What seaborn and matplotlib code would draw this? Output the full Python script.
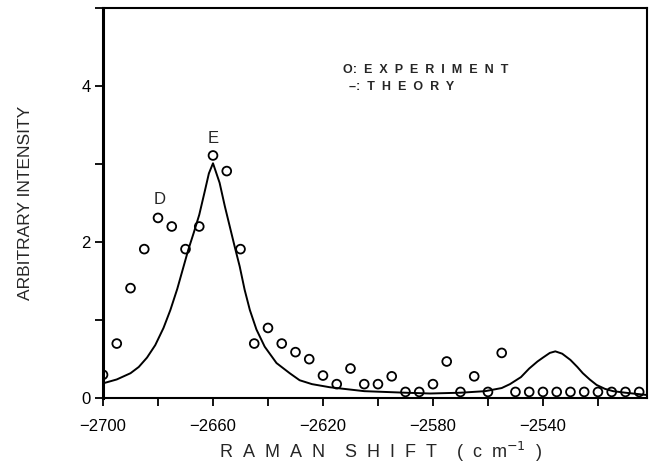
import matplotlib
matplotlib.use("Agg")
import matplotlib.pyplot as plt
from matplotlib.ticker import MultipleLocator, FuncFormatter
import seaborn as sns
import pandas as pd

exp_shift = [-2700, -2695, -2690, -2685, -2680, -2675, -2670, -2665, -2660, -2655,
             -2650, -2645, -2640, -2635, -2630, -2625, -2620, -2615, -2610, -2605,
             -2600, -2595, -2590, -2585, -2580, -2575, -2570, -2565, -2560, -2555,
             -2550, -2545, -2540, -2535, -2530, -2525, -2520, -2515, -2510, -2505]
exp_intensity = [0.30, 0.70, 1.41, 1.91, 2.31, 2.20, 1.91, 2.20, 3.11, 2.91,
                 1.91, 0.70, 0.90, 0.70, 0.59, 0.50, 0.29, 0.18, 0.38, 0.18,
                 0.18, 0.28, 0.08, 0.08, 0.18, 0.47, 0.08, 0.28, 0.08, 0.58,
                 0.08, 0.08, 0.08, 0.08, 0.08, 0.08, 0.08, 0.08, 0.08, 0.08]

# theory curve
theory_shift = [-2700, -2695, -2690, -2687, -2684, -2681, -2678, -2675.5, -2673, -2671,
                -2669, -2667, -2665, -2663, -2661.5, -2660,
                -2657.6, -2655.7, -2653.9, -2652.1, -2650.3, -2648.5, -2646.6, -2644.2,
                -2641.2, -2636.9, -2632.1, -2628.5, -2624, -2617.5, -2605, -2590,
                -2581, -2570, -2561, -2555, -2552, -2548, -2545, -2542, -2540,
                -2537.5, -2535.5, -2533, -2530, -2527.5, -2525.5, -2523, -2520.5,
                -2517.5, -2514.5, -2510, -2502]
theory_intensity = [0.19, 0.24, 0.32, 0.40, 0.52, 0.68, 0.90, 1.13, 1.40, 1.65,
                    1.90, 2.12, 2.35, 2.65, 2.88, 3.01,
                    2.76, 2.46, 2.20, 1.94, 1.69, 1.39, 1.13, 0.88,
                    0.66, 0.45, 0.32, 0.23, 0.18, 0.14, 0.09, 0.07,
                    0.06, 0.07, 0.09, 0.13, 0.18, 0.27, 0.38, 0.47, 0.52,
                    0.58, 0.60, 0.57, 0.49, 0.40, 0.32, 0.24, 0.17,
                    0.12, 0.09, 0.07, 0.04]

peak_labels = ["D", "E"]
peak_x = [-2679.3, -2660]
peak_y = [2.54, 3.33]

sns.set_theme(style="ticks")
plt.rcParams['font.family'] = ['Liberation Sans', 'DejaVu Sans']

exp_df = pd.DataFrame({"shift": exp_shift, "intensity": exp_intensity})
th_df = pd.DataFrame({"shift": theory_shift, "intensity": theory_intensity})

fig, ax = plt.subplots(figsize=(6.52, 4.69), dpi=100)
fig.subplots_adjust(left=0.158, right=0.993, top=0.983, bottom=0.151)

sns.lineplot(data=th_df, x="shift", y="intensity", ax=ax, color="black",
             linewidth=1.4, sort=False, estimator=None)
sns.scatterplot(data=exp_df, x="shift", y="intensity", ax=ax, marker="o",
                facecolor="none", edgecolor="black", s=40, linewidth=1.3, zorder=3)

for lab, x, y in zip(peak_labels, peak_x, peak_y):
    ax.text(x, y, lab, ha="center", va="center", fontsize=12)

ax.text(0.440, 0.840, "O:  E  X  P  E  R  I  M  E  N  T", transform=ax.transAxes,
        ha="left", va="center", fontsize=9, fontweight="bold")
ax.text(0.452, 0.797, "\u2013:  T  H  E  O  R  Y", transform=ax.transAxes,
        ha="left", va="center", fontsize=9, fontweight="bold")

ax.set_xlim(-2700, -2502)
ax.set_ylim(0, 5)
ax.xaxis.set_major_locator(MultipleLocator(20))
ax.yaxis.set_major_locator(MultipleLocator(1))
ax.xaxis.set_major_formatter(FuncFormatter(
    lambda v, p: f"{int(round(v))}".replace("-", "\u2212") if round(v) % 40 == 20 else ""))
ax.yaxis.set_major_formatter(FuncFormatter(
    lambda v, p: f"{int(round(v))}" if round(v) % 2 == 0 and v < 5 else ""))
ax.tick_params(axis="both", direction="out", length=5.5, width=1.3,
               color="black", labelsize=12, labelcolor="black")
ax.tick_params(axis="x", pad=9.5)
ax.tick_params(axis="y", pad=3.5)

ax.set_xlabel("R  A  M  A  N    S  H  I  F  T    (  c  m$^{-1}$  )", fontsize=13, va="center")
ax.xaxis.set_label_coords(0.51, -0.138)
ax.set_ylabel("ARBITRARY INTENSITY", fontsize=12.5, va="center")
ax.yaxis.set_label_coords(-0.142, 0.5)

for side in ["top", "right", "bottom"]:
    ax.spines[side].set_linewidth(1.5)
    ax.spines[side].set_color("black")
ax.spines["left"].set_linewidth(2.2)
ax.spines["left"].set_color("black")
ax.grid(False)

fig.savefig("out.png", dpi=100)
